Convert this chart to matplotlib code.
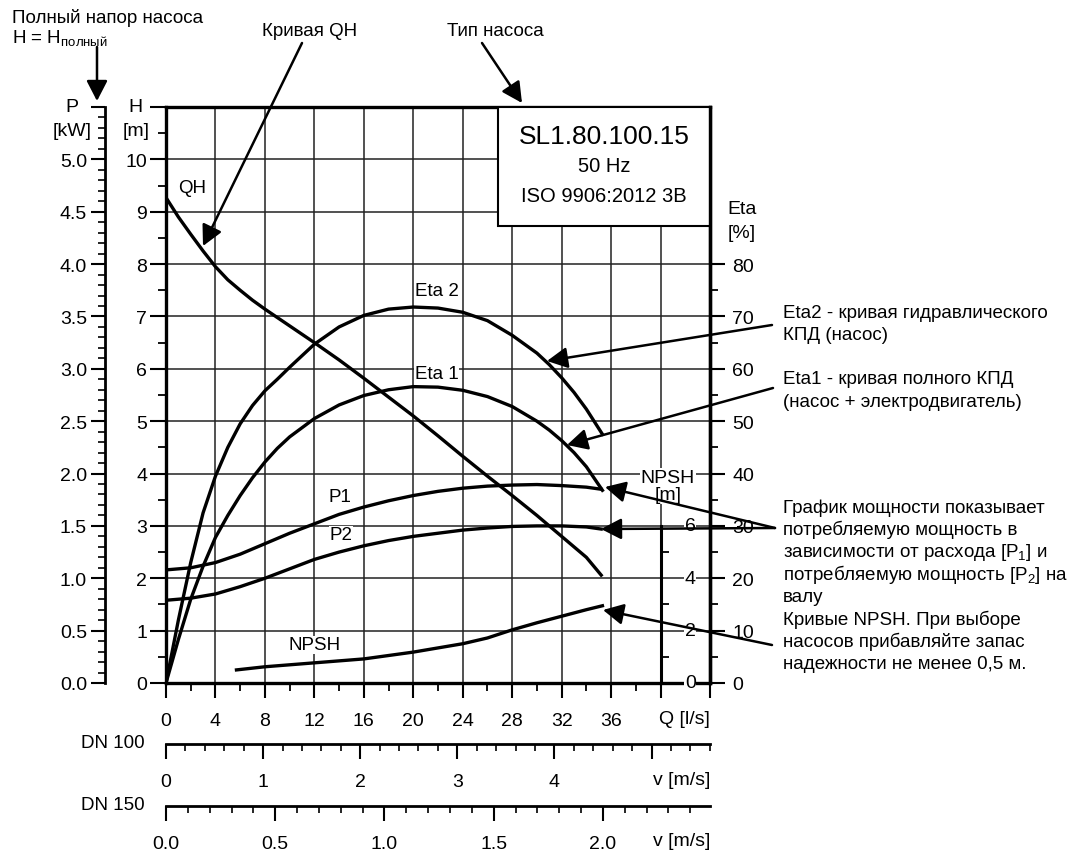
"""
pump curve sheet SL1.80.100.15 with annotations
"""

import numpy as np
import matplotlib
matplotlib.use('Agg')
from matplotlib import pyplot as plt
from matplotlib.patches import Rectangle, FancyArrowPatch
from matplotlib.ticker import MultipleLocator, FixedLocator

plt.rcParams['font.family'] = ['Liberation Sans', 'DejaVu Sans']
plt.rcParams['mathtext.fontset'] = 'custom'
plt.rcParams['mathtext.rm'] = 'Liberation Sans'
plt.rcParams['mathtext.default'] = 'regular'
plt.rcParams['font.size'] = 14

# QH curve [l/s, m]
q_qh = [0, 1, 2, 3, 4, 5, 6, 7, 8, 10, 12, 14, 16, 18, 20, 22, 24, 26, 28, 30, 32, 34, 35.2]
h_qh = [9.27, 8.9, 8.57, 8.25, 7.95, 7.7, 7.5, 7.31, 7.14, 6.82, 6.5, 6.17, 5.82, 5.46, 5.1, 4.72, 4.33, 3.95,
        3.58, 3.2, 2.8, 2.4, 2.06]

# efficiency curves [%]
q_eta = [0, 1, 2, 3, 4, 5, 6, 7, 8, 9, 10, 12, 14, 16, 18, 20, 22, 24, 26, 28, 30, 31, 32, 33, 34, 35.3]
eta2 = [0, 12, 23, 32.5, 39.5, 45, 49.5, 53, 55.8, 58, 60.3, 64.7, 68, 70.2, 71.4, 71.8, 71.6, 70.8, 69.2, 66.4,
        63, 60.8, 58.3, 55.5, 52.3, 47.5]
eta1 = [0, 8.3, 16, 22.3, 27.8, 32, 35.8, 39.2, 42.2, 44.8, 47, 50.5, 53.1, 54.9, 56, 56.6, 56.5, 55.9, 54.7,
        52.8, 50, 48.3, 46.3, 44, 41.3, 36.8]

# power curves [kW]
q_p = [0, 2, 4, 6, 8, 10, 12, 14, 16, 18, 20, 22, 24, 26, 28, 30, 32, 34, 35.2]
p1 = [1.08, 1.1, 1.15, 1.23, 1.33, 1.43, 1.52, 1.61, 1.68, 1.74, 1.79, 1.83, 1.86, 1.88, 1.89, 1.895, 1.885, 1.87, 1.85]
p2 = [0.79, 0.81, 0.85, 0.92, 1.0, 1.09, 1.18, 1.25, 1.31, 1.36, 1.40, 1.43, 1.46, 1.48, 1.495, 1.50, 1.50, 1.49, 1.47]

# NPSH [m]
q_npsh = [5.7, 8, 12, 16, 20, 24, 26, 28, 30, 32, 34, 35.3]
npsh = [0.5, 0.62, 0.77, 0.92, 1.18, 1.5, 1.72, 2.03, 2.3, 2.55, 2.8, 2.95]

q_ticks = list(range(0, 45, 4))
q_labels = [str(q) for q in q_ticks if q <= 36]
h_ticks = list(range(0, 12))
p_ticks = list(np.arange(0, 5.51, 0.5))
eta_ticks = list(range(0, 81, 10))
npsh_ticks = [0, 2, 4, 6]
npsh_axis_q = 40

# pipe velocity scales: Q [l/s] per 1 m/s
dn100_q_per_v = 7.854
dn150_q_per_v = 17.671
dn100_ticks = [0, 1, 2, 3, 4, 5]
dn100_labels = ['0', '1', '2', '3', '4', '']
dn150_ticks = [0.0, 0.5, 1.0, 1.5, 2.0]
dn150_labels = ['0.0', '0.5', '1.0', '1.5', '2.0']

W, HGT = 1082, 854
fig = plt.figure(figsize=(W / 100, HGT / 100), dpi=100)

def fx(x):
    return x / W

def fy(y):
    return 1 - y / HGT

def ftext(x, y, s, **kw):
    fig.text(fx(x), fy(y), s, **kw)

def arrow(x0, y0, x1, y1):
    fig.add_artist(FancyArrowPatch((fx(x0), fy(y0)), (fx(x1), fy(y1)), transform=fig.transFigure,
                                   arrowstyle='-|>,head_length=0.62,head_width=0.32', mutation_scale=20,
                                   lw=1.8, color='black', shrinkA=0, shrinkB=0))

L, R, T, B = 166, 710, 108, 684
ax = fig.add_axes([fx(L), fy(B), (R - L) / W, (B - T) / HGT])
ax.set_xlim(0, 44)
ax.set_ylim(0, 11)
ax.xaxis.set_major_locator(FixedLocator(q_ticks))
ax.xaxis.set_minor_locator(MultipleLocator(2))
ax.set_xticklabels(q_labels + [''] * (len(q_ticks) - len(q_labels)))
ax.yaxis.set_major_locator(FixedLocator(h_ticks))
ax.yaxis.set_minor_locator(MultipleLocator(0.5))
ax.set_yticklabels([str(h) for h in h_ticks[:-1]] + [''])
ax.grid(True, which='major', color='#222222', lw=1.1)
ax.tick_params(axis='x', which='major', direction='out', length=11, width=1.5, pad=10, labelsize=14)
ax.tick_params(axis='x', which='minor', direction='out', length=6, width=1.3)
ax.tick_params(axis='y', which='major', direction='out', length=11.5, width=1.5, pad=2, labelsize=14)
ax.tick_params(axis='y', which='minor', direction='out', length=6, width=1.3)
for s in ax.spines.values():
    s.set_linewidth(2.4)
ax.plot(q_qh, h_qh, color='black', lw=2.4)

# power axis, left outside
ax_p = ax.twinx()
ax_p.set_ylim(0, 5.5)
ax_p.yaxis.set_ticks_position('left')
for k in ['right', 'top', 'bottom']:
    ax_p.spines[k].set_visible(False)
ax_p.spines['left'].set_position(('axes', -61 / (R - L)))
ax_p.spines['left'].set_linewidth(2)
ax_p.yaxis.set_major_locator(FixedLocator(p_ticks))
ax_p.yaxis.set_minor_locator(MultipleLocator(0.1))
ax_p.set_yticklabels(['%.1f' % p for p in p_ticks[:-1]] + [''])
ax_p.tick_params(axis='y', which='major', direction='out', length=10, width=1.5, pad=3, labelsize=14)
ax_p.tick_params(axis='y', which='minor', direction='out', length=5, width=1.2)
ax_p.plot(q_p, p1, color='black', lw=2.4)
ax_p.plot(q_p, p2, color='black', lw=2.4)

# efficiency axis, right
ax_e = ax.twinx()
ax_e.set_ylim(0, 110)
for k in ['left', 'top', 'bottom']:
    ax_e.spines[k].set_visible(False)
ax_e.spines['right'].set_linewidth(2.4)
ax_e.yaxis.set_major_locator(FixedLocator(eta_ticks))
ax_e.yaxis.set_minor_locator(FixedLocator([e + 5 for e in eta_ticks[:-1]]))
ax_e.tick_params(axis='y', which='major', direction='out', length=11, width=1.5, pad=5, labelsize=14)
ax_e.tick_params(axis='y', which='minor', direction='out', length=6, width=1.3)
ax_e.plot(q_eta, eta2, color='black', lw=2.4)
ax_e.plot(q_eta, eta1, color='black', lw=2.4)

# NPSH axis, inside at Q = 40
ax_n = ax.twinx()
ax_n.set_ylim(0, 22)
for k in ['left', 'top', 'bottom']:
    ax_n.spines[k].set_visible(False)
ax_n.spines['right'].set_position(('data', npsh_axis_q))
ax_n.spines['right'].set_bounds(0, max(npsh_ticks))
ax_n.spines['right'].set_linewidth(2.2)
ax_n.yaxis.set_major_locator(FixedLocator(npsh_ticks))
ax_n.yaxis.set_minor_locator(FixedLocator([v + 1 for v in npsh_ticks[:-1]]))
ax_n.tick_params(axis='y', which='major', length=0, labelright=False)
ax_n.tick_params(axis='y', which='minor', direction='out', length=6, width=1.3)
ax_n.plot(q_npsh, npsh, color='black', lw=2.4)
for v in npsh_ticks:
    ax_n.text(42.4, v, str(v), ha='center', va='center', fontsize=14,
              bbox=dict(facecolor='white', edgecolor='none', pad=0.5))

# curve labels
lbl = dict(ha='center', va='center', fontsize=13.5, zorder=4,
           bbox=dict(facecolor='white', edgecolor='none', pad=0.5))
ax.text(2.1, 9.47, 'QH', **lbl)
ax.text(21.9, 7.49, 'Eta 2', **lbl)
ax.text(21.9, 5.92, 'Eta 1', **lbl)
ax.text(14.1, 3.57, 'P1', **lbl)
ax.text(14.15, 2.83, 'P2', **lbl)
ax.text(12.0, 0.73, 'NPSH', **lbl)
ax.text(40.6, 3.76, 'NPSH\n[m]', ha='center', va='center', fontsize=14, zorder=4, linespacing=1.05,
        bbox=dict(facecolor='white', edgecolor='none', pad=0.5))

# pump type box
ax.add_patch(Rectangle(((498 - L) / (R - L), (B - 227) / (B - T)), (R - 498) / (R - L), (227 - T) / (B - T),
                       transform=ax.transAxes, facecolor='white', edgecolor='black', lw=1.5, zorder=3))
ftext(604, 137, 'SL1.80.100.15', ha='center', va='center', fontsize=19)
ftext(604, 166, '50 Hz', ha='center', va='center', fontsize=14.5)
ftext(604, 197, 'ISO 9906:2012 3B', ha='center', va='center', fontsize=14.5)

# pipe velocity scales
for y_line, q_per_v, ticks, labels, minor, name, y_lab in [
        (745, dn100_q_per_v, dn100_ticks, dn100_labels, 0.2, 'DN 100', 781),
        (807, dn150_q_per_v, dn150_ticks, dn150_labels, 0.1, 'DN 150', 842)]:
    axv = fig.add_axes([fx(L), fy(y_line), (R - L) / W, 0.01])
    axv.set_xlim(0, 44 / q_per_v)
    axv.patch.set_visible(False)
    for k in ['left', 'right', 'top']:
        axv.spines[k].set_visible(False)
    axv.spines['bottom'].set_linewidth(2)
    axv.set_yticks([])
    axv.xaxis.set_major_locator(FixedLocator(ticks))
    axv.xaxis.set_minor_locator(MultipleLocator(minor))
    axv.set_xticklabels(labels)
    axv.tick_params(axis='x', which='major', direction='out', length=11, width=1.5, pad=10, labelsize=14)
    axv.tick_params(axis='x', which='minor', direction='out', length=5, width=1.2)
    ftext(145, y_line - 1, name, ha='right', va='center', fontsize=13.5)
    ftext(710, y_lab, 'v [m/s]', ha='right', va='center', fontsize=14)

# axis names
ftext(710, 720, 'Q [l/s]', ha='right', va='center', fontsize=14)
ftext(78, 108, 'P', ha='right', va='center', fontsize=14)
ftext(92, 132, '[kW]', ha='right', va='center', fontsize=14)
ftext(143, 108, 'H', ha='right', va='center', fontsize=14)
ftext(150, 132, '[m]', ha='right', va='center', fontsize=14)
ftext(742, 210, 'Eta', ha='center', va='center', fontsize=14)
ftext(742, 234, '[%]', ha='center', va='center', fontsize=14)

# annotations
ftext(12, 23, 'Полный напор насоса', ha='left', va='baseline', fontsize=13.5)
ftext(12, 43, 'H = H$_{полный}$', ha='left', va='baseline', fontsize=13.5)
arrow(97, 48, 97, 102)
ftext(310, 36, 'Кривая QH', ha='center', va='baseline', fontsize=13.5)
arrow(302, 44, 203, 247)
ftext(495, 36, 'Тип насоса', ha='center', va='baseline', fontsize=13.5)
arrow(482, 44, 522, 104)

notes = [
    (['Eta2 - кривая гидравлического', 'КПД (насос)'], 313),
    (['Eta1 - кривая полного КПД', '(насос + электродвигатель)'], 380),
    (['График мощности показывает', 'потребляемую мощность в',
      'зависимости от расхода [P$_1$] и', 'потребляемую мощность [P$_2$] на', 'валу'], 508),
    (['Кривые NPSH. При выборе', 'насосов прибавляйте запас', 'надежности не менее 0,5 м.'], 620),
]
for lines, y0 in notes:
    for i, s in enumerate(lines):
        ftext(783, y0 + i * 22.3, s, ha='left', va='center', fontsize=13.5)

arrow(772, 326, 547, 362)
arrow(773, 389, 567, 446)
arrow(775, 529, 605, 488)
arrow(775, 529, 601, 530)
arrow(772, 646, 603, 611)

fig.savefig('out.png', dpi=100)
